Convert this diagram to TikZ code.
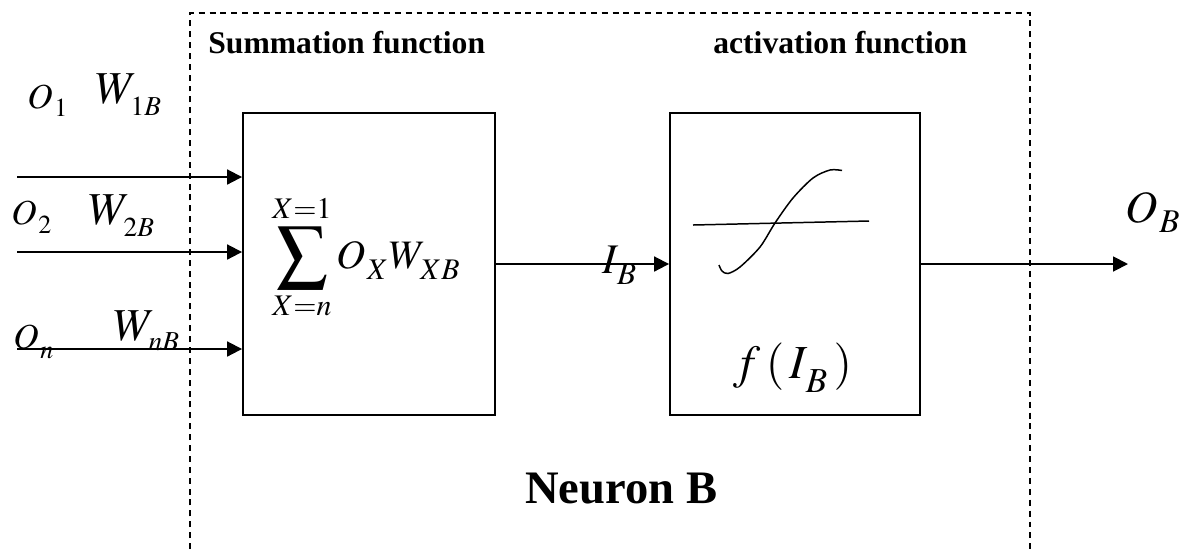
\documentclass[tikz,border=0pt]{standalone}
\usepackage{mathptmx}
\usepackage{graphicx}
\usepackage{fontspec}
\setmainfont{Liberation Serif}
\usetikzlibrary{arrows.meta,positioning,calc}
\newcommand{\dsub}[2][3pt]{\kern1pt\raisebox{-#1}{$\scriptstyle #2$}}
\begin{document}
\begin{tikzpicture}[x=0.02cm,y=-0.02cm,
  box/.style={draw,line width=1.1pt,minimum height=6.04cm,inner sep=0pt},
  arr/.style={line width=1.1pt,-{Triangle[length=8.5pt,width=8.5pt]}},
  lbl/.style={anchor=base west,inner sep=0pt},
  head/.style={lbl,font=\fontsize{18}{20}\selectfont\bfseries}]
\useasboundingbox (0,0) rectangle (1180,549);
% neuron boundary
\draw[dash pattern=on 3.4pt off 2.8pt,line width=0.75pt] (190,549) |- (1030,13) -- (1030,549);
\node[head] (sumtitle) at (208,53) {Summation function};
\node[head] (acttitle) at (713,53) {activation function};
\node[lbl,font=\fontsize{26.5}{30}\selectfont\bfseries] (neuron) at (525,503) {Neuron B};
% the two blocks
\node[box,minimum width=5.04cm] (sumbox) at (369,264) {};
\node[box,minimum width=5cm] (actbox) at (795,264) {};
\node[lbl,font=\fontsize{23}{26}\selectfont] (sumexpr) at (272,268) {$\displaystyle\mathop{\raisebox{-1.5pt}{\scalebox{1.25}{$\displaystyle\sum$}}}\limits_{X=n}^{X=1} O_{\dsub{X}}W_{\dsub{XB}}$};
\node[lbl,font=\fontsize{27}{30}\selectfont] (fib) at (733,378) {$f\,(\,I_{\dsub[4pt]{B}}\,)$};
\draw[line width=0.85pt] (693,225) -- (869,221);
\draw[line width=0.85pt] plot[smooth] coordinates {(719,265) (722,271) (728,273.5) (740,267) (760,247) (775,223) (793,198) (813,178) (830,170) (842,170.5)};
% inputs
\foreach \y/\n in {177/1,252/2,349/3}{\coordinate (in\n) at (17,\y); \draw[arr] (in\n) -- (in\n -| sumbox.west);}
\node[lbl,font=\fontsize{20}{24}\selectfont] (o1) at (27,108) {$O_{\dsub[2pt]{1}}$};
\node[lbl,font=\fontsize{26}{30}\selectfont] (w1) at (95,103) {$W_{\dsub{\scriptscriptstyle 1B}}$};
\node[lbl,font=\fontsize{20}{24}\selectfont] (o2) at (11,224) {$O_{\dsub[2.5pt]{2}}$};
\node[lbl,font=\fontsize{26}{30}\selectfont] (w2) at (88,224) {$W_{\dsub{\scriptscriptstyle 2B}}$};
\node[lbl,font=\fontsize{20}{24}\selectfont] (on) at (13,348) {$O_{\dsub{n}}$};
\node[lbl,font=\fontsize{26}{30}\selectfont] (wn) at (113,340) {$W_{\dsub[2pt]{\scriptscriptstyle nB}}$};
% outputs
\draw[arr] (sumbox.east) -- (actbox.west);
\node[lbl,font=\fontsize{24}{28}\selectfont] (ib) at (602,273) {$I_{\dsub{B}}$};
\coordinate (out) at (1128,264);
\draw[arr] (actbox.east) -- (out);
\node[lbl,font=\fontsize{25.5}{30}\selectfont] (ob) at (1125,222) {$O_{\dsub[2pt]{B}}$};
\end{tikzpicture}
\end{document}
